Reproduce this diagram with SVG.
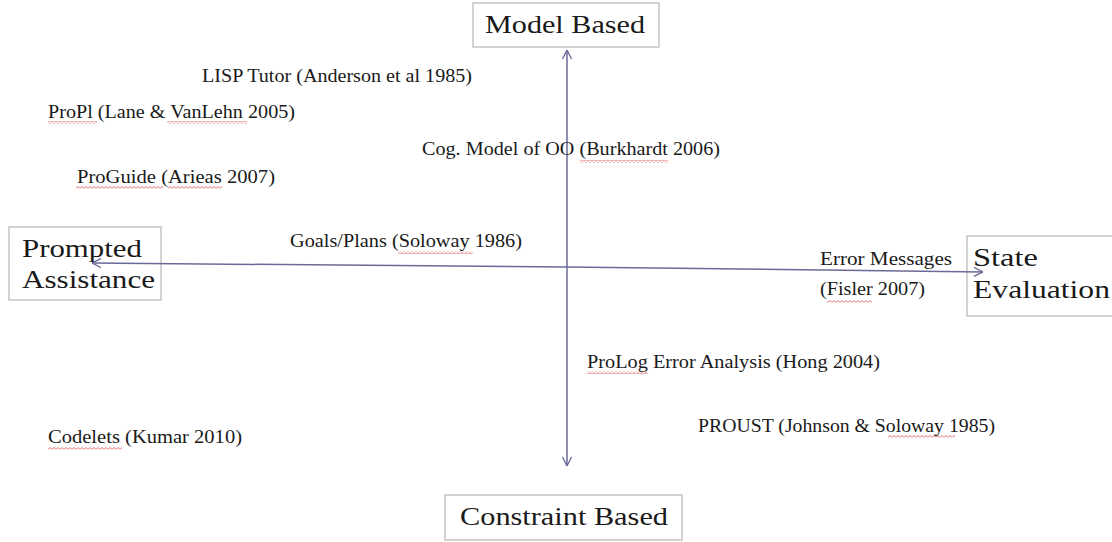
<svg xmlns="http://www.w3.org/2000/svg" width="1112" height="542" viewBox="0 0 1112 542">
  <style>
    .box { fill: #ffffff; stroke: #c4c4c4; stroke-width: 1.5; }
    .big { font-family: "Liberation Serif", "DejaVu Serif", serif; font-size: 26px; fill: #1a1a1a; }
    .lbl { font-family: "Liberation Serif", "DejaVu Serif", serif; font-size: 18px; fill: #1a1a1a; }
    .axis { stroke: #6a6a98; stroke-width: 1.5; fill: none; }
    .wavy { fill: url(#wave); }
  </style>
  <defs>
    <marker id="arr" viewBox="0 0 10 10" refX="10" refY="5" markerWidth="10" markerHeight="10" markerUnits="userSpaceOnUse" orient="auto">
      <path d="M1,0.5 L10,5 L1,9.5" fill="none" stroke="#6a6a98" stroke-width="1.3"/>
    </marker>
    <pattern id="wave" x="0" y="0" width="4" height="3" patternUnits="userSpaceOnUse">
      <path d="M0,2.5 L2,0.5 L4,2.5" fill="none" stroke="#d84040" stroke-width="0.8"/>
    </pattern>
  </defs>
  <rect width="1112" height="542" fill="#ffffff"/>

  <g id="node-model-based">
    <rect class="box" x="473" y="3" width="186" height="44"/>
    <text class="big" x="485" y="33" textLength="160" lengthAdjust="spacingAndGlyphs">Model Based</text>
  </g>
  <g id="node-prompted-assistance">
    <rect class="box" x="9" y="227" width="152" height="73"/>
    <text class="big" x="22" y="257" textLength="120" lengthAdjust="spacingAndGlyphs">Prompted</text>
    <text class="big" x="22" y="288" textLength="133" lengthAdjust="spacingAndGlyphs">Assistance</text>
  </g>
  <g id="node-state-evaluation">
    <rect class="box" x="967" y="236" width="150" height="80"/>
    <text class="big" x="973" y="266" textLength="65" lengthAdjust="spacingAndGlyphs">State</text>
    <text class="big" x="973" y="298" textLength="137" lengthAdjust="spacingAndGlyphs">Evaluation</text>
  </g>
  <g id="node-constraint-based">
    <rect class="box" x="445" y="495" width="237" height="45"/>
    <text class="big" x="460" y="525" textLength="208" lengthAdjust="spacingAndGlyphs">Constraint Based</text>
  </g>

  <g id="connectors">
    <line class="axis" x1="567" y1="260" x2="567" y2="50" marker-end="url(#arr)"/>
    <line class="axis" x1="567" y1="260" x2="567" y2="466" marker-end="url(#arr)"/>
    <line class="axis" x1="567" y1="267" x2="92" y2="263" marker-end="url(#arr)"/>
    <line class="axis" x1="567" y1="267" x2="983" y2="272" marker-end="url(#arr)"/>
  </g>

  <g id="node-lisp-tutor">
    <text class="lbl" x="202" y="82" textLength="270" lengthAdjust="spacingAndGlyphs">LISP Tutor (Anderson et al 1985)</text>
  </g>
  <g id="node-propl">
    <text class="lbl" x="48" y="118" textLength="247" lengthAdjust="spacingAndGlyphs">ProPl (Lane &amp; VanLehn 2005)</text>
    <rect class="wavy" x="48" y="121" width="49" height="3"/>
    <rect class="wavy" x="167" y="121" width="80" height="3"/>
  </g>
  <g id="node-proguide">
    <text class="lbl" x="77" y="183" textLength="198" lengthAdjust="spacingAndGlyphs">ProGuide (Arieas 2007)</text>
    <rect class="wavy" x="76" y="186" width="87" height="3"/>
    <rect class="wavy" x="168" y="186" width="54" height="3"/>
  </g>
  <g id="node-cog-model">
    <text class="lbl" x="422" y="155" textLength="298" lengthAdjust="spacingAndGlyphs">Cog. Model of OO (Burkhardt 2006)</text>
    <rect class="wavy" x="580" y="160" width="88" height="3"/>
  </g>
  <g id="node-goals-plans">
    <text class="lbl" x="290" y="247" textLength="232" lengthAdjust="spacingAndGlyphs">Goals/Plans (Soloway 1986)</text>
    <rect class="wavy" x="398" y="251" width="75" height="3"/>
  </g>
  <g id="node-error-messages">
    <text class="lbl" x="820" y="265" textLength="132" lengthAdjust="spacingAndGlyphs">Error Messages</text>
    <text class="lbl" x="820" y="295" textLength="105" lengthAdjust="spacingAndGlyphs">(Fisler 2007)</text>
    <rect class="wavy" x="827" y="300" width="45" height="3"/>
  </g>
  <g id="node-prolog">
    <text class="lbl" x="587" y="368" textLength="293" lengthAdjust="spacingAndGlyphs">ProLog Error Analysis (Hong 2004)</text>
    <rect class="wavy" x="587" y="371" width="61" height="3"/>
  </g>
  <g id="node-proust">
    <text class="lbl" x="698" y="432" textLength="297" lengthAdjust="spacingAndGlyphs">PROUST (Johnson &amp; Soloway 1985)</text>
    <rect class="wavy" x="888" y="435" width="67" height="3"/>
  </g>
  <g id="node-codelets">
    <text class="lbl" x="48" y="443" textLength="194" lengthAdjust="spacingAndGlyphs">Codelets (Kumar 2010)</text>
    <rect class="wavy" x="48" y="447" width="74" height="3"/>
  </g>
</svg>
